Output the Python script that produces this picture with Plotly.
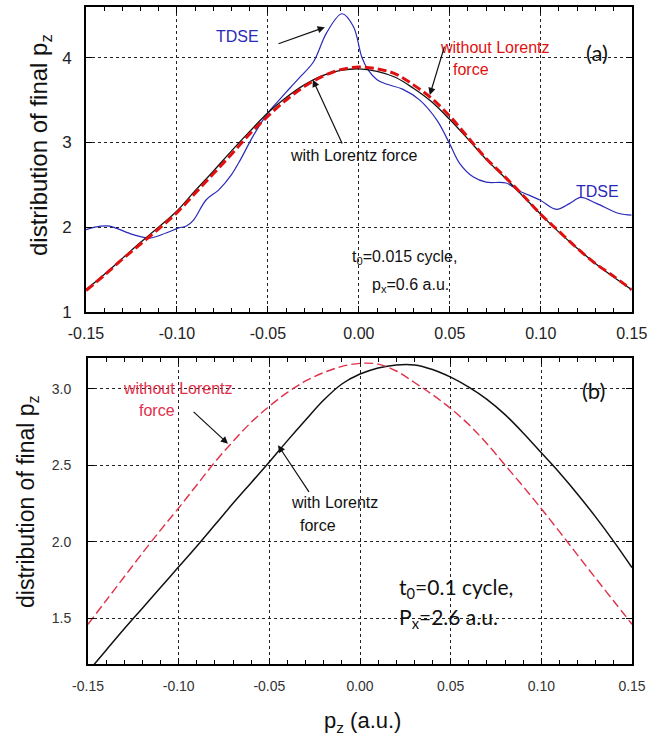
import plotly.graph_objects as go

# ---------------- data ----------------
x_grid = [-0.15, -0.14, -0.13, -0.12, -0.11, -0.10, -0.09, -0.08, -0.07, -0.06, -0.05,
          -0.04, -0.03, -0.02, -0.01, 0.00, 0.01, 0.02, 0.03, 0.04, 0.05,
          0.06, 0.07, 0.08, 0.09, 0.10, 0.11, 0.12, 0.13, 0.14, 0.15]

# panel (a)
a_without = [1.25, 1.43, 1.62, 1.80, 1.98, 2.17, 2.40, 2.63, 2.86, 3.10, 3.31,
             3.50, 3.66, 3.78, 3.86, 3.89, 3.87, 3.81, 3.68, 3.52, 3.31,
             3.06, 2.81, 2.60, 2.38, 2.15, 1.95, 1.75, 1.57, 1.42, 1.26]
a_with = [1.26, 1.44, 1.63, 1.82, 2.00, 2.19, 2.43, 2.66, 2.90, 3.13, 3.35,
          3.53, 3.68, 3.79, 3.85, 3.87, 3.84, 3.77, 3.64, 3.48, 3.27,
          3.04, 2.80, 2.59, 2.37, 2.15, 1.94, 1.75, 1.57, 1.41, 1.26]
a_tdse_x = [-0.150, -0.142, -0.137, -0.124, -0.115, -0.106, -0.099, -0.095, -0.091, -0.084,
            -0.077, -0.070, -0.065, -0.058, -0.050, -0.043, -0.038, -0.032, -0.025, -0.0176,
            -0.0093, -0.003, 0.0016, 0.005, 0.010, 0.015, 0.024, 0.0335, 0.043, 0.050,
            0.0555, 0.063, 0.070, 0.081, 0.088, 0.0995, 0.1086, 0.116, 0.122, 0.1306,
            0.143, 0.150]
a_tdse_y = [1.97, 2.01, 2.01, 1.91, 1.87, 1.93, 1.99, 2.01, 2.08, 2.32,
            2.44, 2.62, 2.80, 3.08, 3.35, 3.52, 3.64, 3.78, 3.95, 4.30,
            4.52, 4.37, 4.01, 3.86, 3.74, 3.69, 3.63, 3.50, 3.26, 2.98,
            2.75, 2.59, 2.53, 2.52, 2.43, 2.32, 2.21, 2.28, 2.35, 2.28,
            2.16, 2.14]

# panel (b)
b_without = [1.46, 1.615, 1.77, 1.925, 2.075, 2.22, 2.37, 2.52, 2.655, 2.78, 2.885,
             2.975, 3.05, 3.105, 3.145, 3.165, 3.16, 3.115, 3.04, 2.96, 2.87,
             2.765, 2.64, 2.50, 2.36, 2.215, 2.065, 1.912, 1.76, 1.61, 1.46]
b_with = [1.15, 1.29, 1.43, 1.565, 1.70, 1.835, 1.97, 2.11, 2.25, 2.385, 2.52,
          2.66, 2.795, 2.925, 3.03, 3.095, 3.135, 3.155, 3.155, 3.125, 3.075,
          3.01, 2.93, 2.83, 2.71, 2.58, 2.45, 2.31, 2.16, 2.00, 1.83]

x_ticks = [-0.15, -0.10, -0.05, 0.00, 0.05, 0.10, 0.15]
x_ticklabels = ["-0.15", "-0.10", "-0.05", "0.00", "0.05", "0.10", "0.15"]
ya_ticks = [1, 2, 3, 4]
ya_ticklabels = ["1", "2", "3", "4"]
yb_ticks = [1.5, 2.0, 2.5, 3.0]
yb_ticklabels = ["1.5", "2.0", "2.5", "3.0"]

W, H = 648, 748


def px(x):
    return x / W


def py(y):
    return 1 - y / H


# ---------------- figure ----------------
fig = go.Figure()
fig.add_trace(go.Scatter(x=a_tdse_x, y=a_tdse_y, mode="lines", line=dict(color="#2a2ab8", width=1.2, shape="spline"),
                         xaxis="x", yaxis="y", showlegend=False))
fig.add_trace(go.Scatter(x=x_grid, y=a_with, mode="lines", line=dict(color="#111111", width=1.3, shape="spline"),
                         xaxis="x", yaxis="y", showlegend=False))
fig.add_trace(go.Scatter(x=x_grid, y=a_without, mode="lines",
                         line=dict(color="#e01010", width=3, dash="9px,4px", shape="spline"),
                         xaxis="x", yaxis="y", showlegend=False))
fig.add_trace(go.Scatter(x=x_grid, y=b_with, mode="lines", line=dict(color="#111111", width=1.5, shape="spline"),
                         xaxis="x2", yaxis="y2", showlegend=False))
fig.add_trace(go.Scatter(x=x_grid, y=b_without, mode="lines",
                         line=dict(color="#e0304a", width=1.4, dash="9px,4px", shape="spline"),
                         xaxis="x2", yaxis="y2", showlegend=False))

common = dict(showgrid=True, gridcolor="#222222", griddash="dot", gridwidth=1,
              showline=True, linecolor="black", linewidth=2, mirror="ticks",
              ticks="inside", ticklen=6, tickcolor="black", zeroline=False, automargin=False,
              ticklabeloverflow="allow")

fig.update_layout(
    width=W, height=H,
    margin=dict(l=0, r=0, t=0, b=0),
    paper_bgcolor="white", plot_bgcolor="white",
    xaxis=dict(domain=[px(86), px(631.7)], anchor="y", range=[-0.15, 0.15],
               tickvals=x_ticks, ticktext=x_ticklabels, ticklabelstandoff=6,
               tickfont=dict(family="Arial, Liberation Sans", size=16, color="#222"),
               minor=dict(dtick=0.01, tick0=-0.15, ticks="inside", ticklen=4, tickcolor="black", showgrid=False),
               **common),
    yaxis=dict(domain=[py(311.7), py(7)], anchor="x", range=[1, 4.6],
               tickvals=ya_ticks, ticktext=ya_ticklabels, ticklabelstandoff=9,
               tickfont=dict(family="Arial, Liberation Sans", size=17, color="#222"),
               **common),
    xaxis2=dict(domain=[px(88), px(632)], anchor="y2", range=[-0.15, 0.15],
                tickvals=x_ticks, ticktext=x_ticklabels, ticklabelstandoff=8,
                tickfont=dict(family="Arial, Liberation Sans", size=14, color="#333"),
                minor=dict(dtick=0.01, tick0=-0.15, ticks="inside", ticklen=4, tickcolor="black", showgrid=False),
                **common),
    yaxis2=dict(domain=[py(664), py(358)], anchor="x2", range=[1.2, 3.2],
                tickvals=yb_ticks, ticktext=yb_ticklabels, ticklabelstandoff=12,
                tickfont=dict(family="Arial, Liberation Sans", size=14, color="#333"),
                **common),
)

F = "Arial, Liberation Sans"
C = "Lato, Open Sans"
ann = []
# axis titles
ann.append(dict(text="distribution of final p<sub>z</sub>", xref="paper", yref="paper", x=px(40), y=py(145),
                xanchor="center", yanchor="middle",
                textangle=-90, showarrow=False, font=dict(family=F, size=24, color="#111")))
ann.append(dict(text="distribution of final p<sub>z</sub>", xref="paper", yref="paper", x=px(27), y=py(502),
                xanchor="center", yanchor="middle",
                textangle=-90, showarrow=False, font=dict(family=F, size=23, color="#111")))
ann.append(dict(text="p<sub>z</sub> (a.u.)", xref="paper", yref="paper", x=px(362), y=py(722),
                xanchor="center", yanchor="middle",
                showarrow=False, font=dict(family=F, size=22, color="#111")))

# panel (a) labels
ann += [
    dict(text="TDSE", x=-0.0665, y=4.25, xref="x", yref="y", showarrow=False, font=dict(family=F, size=16, color="#2a2ab8")),
    dict(text="", x=-0.0187, y=4.36, ax=-0.045, ay=4.16, xref="x", yref="y", axref="x", ayref="y",
         showarrow=True, arrowhead=2, arrowsize=1.2, arrowwidth=1.2, arrowcolor="#111"),
    dict(text="without Lorentz", x=0.0747, y=4.12, xref="x", yref="y", showarrow=False,
         font=dict(family=F, size=16, color="#e01010")),
    dict(text="force", x=0.0615, y=3.86, xref="x", yref="y", showarrow=False,
         font=dict(family=F, size=16, color="#e01010")),
    dict(text="", x=0.039, y=3.56, ax=0.0473, ay=4.15, xref="x", yref="y", axref="x", ayref="y",
         showarrow=True, arrowhead=2, arrowsize=1.2, arrowwidth=1.2, arrowcolor="#111"),
    dict(text="(a)", x=0.131, y=4.06, xref="x", yref="y", showarrow=False, font=dict(family=C, size=22, color="#111")),
    dict(text="with Lorentz force", x=-0.0027, y=2.85, xref="x", yref="y", showarrow=False,
         font=dict(family=F, size=16, color="#111")),
    dict(text="", x=-0.0253, y=3.74, ax=-0.0088, ay=2.97, xref="x", yref="y", axref="x", ayref="y",
         showarrow=True, arrowhead=2, arrowsize=1.2, arrowwidth=1.2, arrowcolor="#111"),
    dict(text="TDSE", x=0.131, y=2.415, xref="x", yref="y", showarrow=False, font=dict(family=F, size=16, color="#2a2ab8")),
    dict(text="t<sub>0</sub>=0.015 cycle,", x=0.0253, y=1.635, xref="x", yref="y", showarrow=False,
         font=dict(family=F, size=16, color="#111")),
    dict(text="p<sub>x</sub>=0.6 a.u.", x=0.0286, y=1.315, xref="x", yref="y", showarrow=False,
         font=dict(family=F, size=16, color="#111")),
]
# panel (b) labels
ann += [
    dict(text="without Lorentz", x=-0.1004, y=3.0, xref="x2", yref="y2", showarrow=False,
         font=dict(family=F, size=16, color="#e0304a")),
    dict(text="force", x=-0.112, y=2.857, xref="x2", yref="y2", showarrow=False,
         font=dict(family=F, size=16, color="#e0304a")),
    dict(text="", x=-0.0728, y=2.64, ax=-0.0926, ay=2.857, xref="x2", yref="y2", axref="x2", ayref="y2",
         showarrow=True, arrowhead=2, arrowsize=1.2, arrowwidth=1.2, arrowcolor="#111"),
    dict(text="with Lorentz", x=-0.0138, y=2.256, xref="x2", yref="y2", showarrow=False,
         font=dict(family=F, size=16, color="#111")),
    dict(text="force", x=-0.0231, y=2.106, xref="x2", yref="y2", showarrow=False,
         font=dict(family=F, size=16, color="#111")),
    dict(text="", x=-0.0452, y=2.63, ax=-0.0276, ay=2.315, xref="x2", yref="y2", axref="x2", ayref="y2",
         showarrow=True, arrowhead=2, arrowsize=1.2, arrowwidth=1.2, arrowcolor="#111"),
    dict(text="(b)", x=0.1285, y=2.99, xref="x2", yref="y2", showarrow=False, font=dict(family=C, size=22, color="#111")),
    dict(text="t<sub>0</sub>=0.1 cycle,", x=0.0204, y=1.70, xref="x2", yref="y2", xanchor="left", showarrow=False,
         font=dict(family=C, size=21, color="#111")),
    dict(text="P<sub>x</sub>=2.6 a.u.", x=0.0204, y=1.50, xref="x2", yref="y2", xanchor="left", showarrow=False,
         font=dict(family=C, size=21, color="#111")),
]
fig.update_layout(annotations=ann)

# remove the default 8px page margin so the 648x748 figure fills the window exactly
fig.write_html("out.html", config={"displayModeBar": False},
               post_script="document.body.style.margin='0';document.body.style.overflow='hidden';")
